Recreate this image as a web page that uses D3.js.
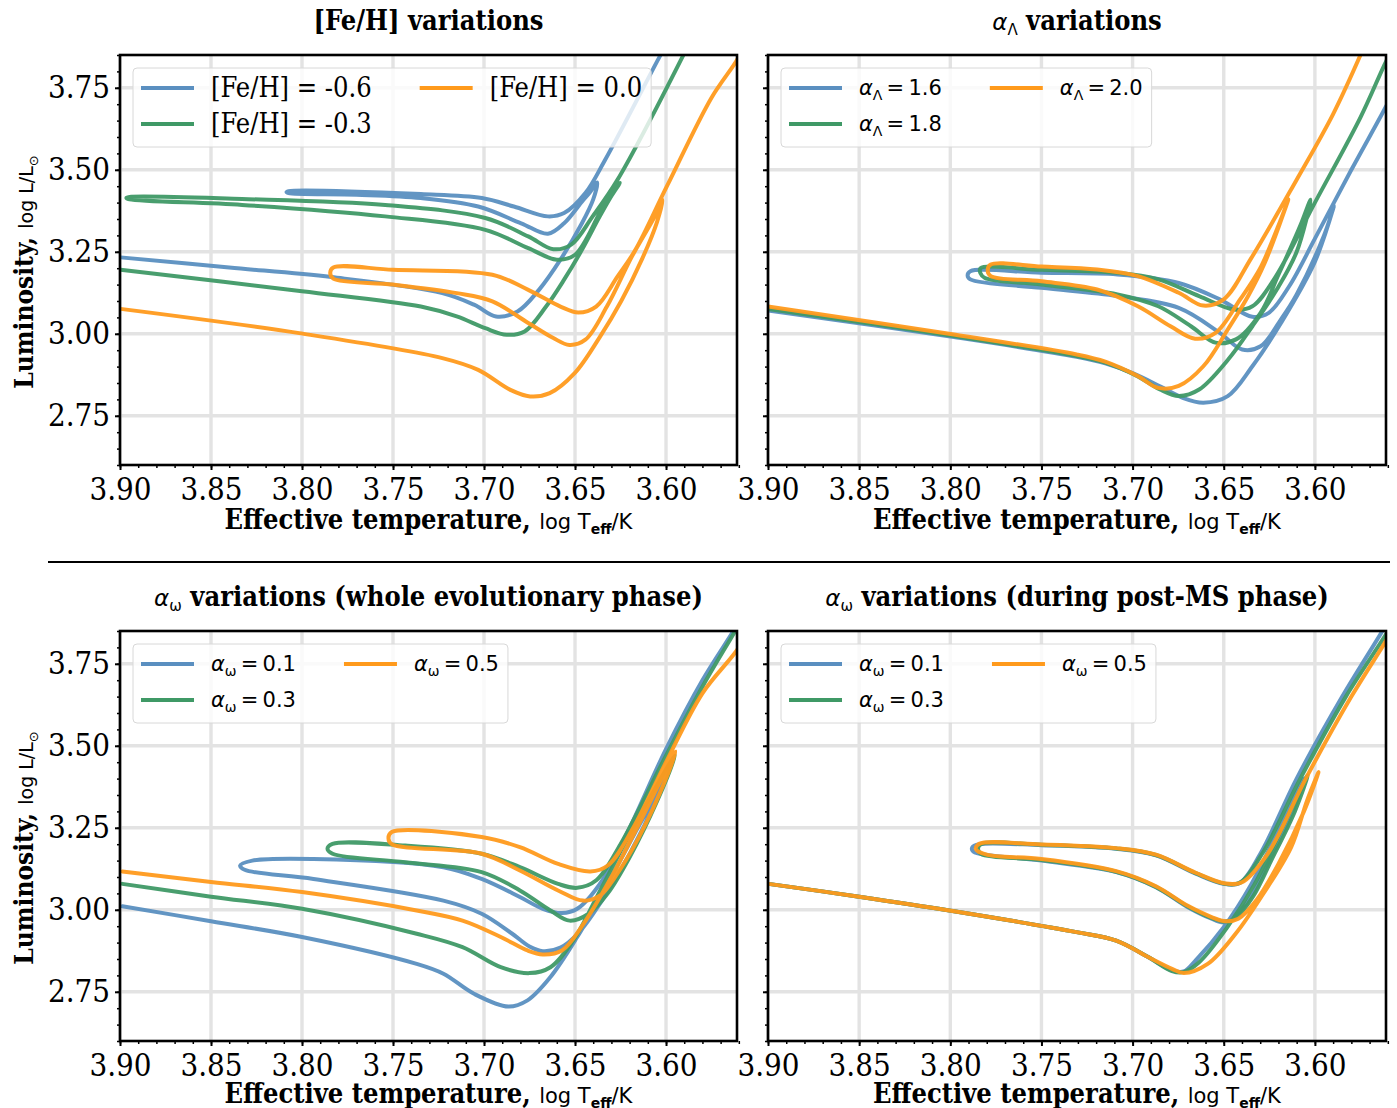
<!DOCTYPE html>
<html><head><meta charset="utf-8">
<script src="https://cdn.jsdelivr.net/npm/d3@7"></script>
<style>
body{margin:0;background:#fff;}
svg{display:block;}
</style></head><body>
<svg id="chart" width="1397" height="1108"></svg>
<script>
// ---------------- data (log Teff, log L) ----------------
const xTicks = [3.90, 3.85, 3.80, 3.75, 3.70, 3.65, 3.60];
const yTicks = [2.75, 3.00, 3.25, 3.50, 3.75];
const xDomain = [3.90, 3.561];
const yDomain = [2.60, 3.85];

const fehLabels = ["[Fe/H] = -0.6", "[Fe/H] = -0.3", "[Fe/H] = 0.0"];
const aLambdaValues = ["1.6", "1.8", "2.0"];
const aOmegaValues = ["0.1", "0.3", "0.5"];

const fehM06 = [[3.8997,3.233],[3.84,3.202],[3.7838,3.173],[3.7229,3.124],[3.7052,3.088],[3.6934,3.053],[3.6816,3.068],[3.6698,3.134],[3.658,3.226],[3.6462,3.337],[3.640,3.41],[3.6378,3.461],
 [3.642,3.43],[3.6462,3.403],[3.656,3.337],[3.6649,3.305],
 [3.6796,3.337],[3.7032,3.388],[3.7347,3.414],[3.770,3.424],[3.8074,3.429],[3.8085,3.432],[3.8074,3.435],
 [3.7347,3.426],[3.7012,3.414],[3.6836,3.388],[3.6649,3.358],[3.656,3.368],[3.6443,3.429],[3.6335,3.53],[3.6035,3.845],[3.600,3.88]];
const fehM03 = [[3.8997,3.195],[3.80,3.13],[3.7347,3.083],[3.715,3.053],[3.6993,3.017],[3.6875,2.997],[3.6777,3.007],[3.6659,3.083],[3.656,3.165],[3.6462,3.256],[3.6364,3.358],[3.630,3.42],[3.6254,3.46],
 [3.630,3.43],[3.6364,3.368],[3.650,3.241],[3.660,3.226],
 [3.6757,3.261],[3.6993,3.317],[3.7543,3.358],[3.8329,3.393],[3.8948,3.410],[3.8965,3.414],[3.8948,3.417],
 [3.8329,3.411],[3.7543,3.393],[3.6993,3.353],[3.6757,3.297],[3.6619,3.258],[3.6521,3.272],[3.6403,3.358],[3.6266,3.47],[3.5909,3.845],[3.587,3.89]];
const feh00 = [[3.8997,3.076],[3.8015,3.002],[3.7229,2.926],[3.7032,2.89],[3.6855,2.829],[3.6747,2.809],[3.6639,2.819],[3.6502,2.88],[3.6364,2.99],[3.6246,3.10],[3.613,3.23],[3.605,3.34],[3.6019,3.408],
 [3.606,3.36],[3.6187,3.236],[3.6325,3.083],[3.6443,2.982],[3.6531,2.966],
 [3.6619,2.987],[3.6757,3.033],[3.6954,3.099],[3.715,3.124],[3.750,3.15],[3.7828,3.168],[3.7845,3.185],[3.7828,3.202],
 [3.750,3.195],[3.6954,3.180],[3.6757,3.134],[3.658,3.083],[3.6482,3.065],[3.6384,3.083],[3.6266,3.175],[3.6168,3.256],[3.5995,3.45],[3.575,3.72],[3.561,3.835],[3.558,3.87]];

const aL16 = [[3.90,3.071],[3.798,2.99],[3.7307,2.93],[3.715,2.91],[3.700,2.88],[3.685,2.84],[3.6725,2.805],[3.6612,2.79],[3.6478,2.81],[3.6343,2.901],[3.6186,3.033],[3.600,3.22],[3.5895,3.39],
 [3.595,3.30],[3.610,3.12],[3.6186,3.044],[3.6298,2.962],[3.6399,2.952],
 [3.6522,3.003],[3.6747,3.079],[3.7083,3.115],[3.750,3.14],[3.789,3.166],[3.7905,3.178],[3.789,3.191],
 [3.750,3.186],[3.7083,3.181],[3.6747,3.155],[3.6522,3.105],[3.6343,3.052],[3.6253,3.064],[3.6141,3.145],[3.600,3.29],[3.580,3.50],[3.561,3.693],[3.555,3.76]];
const aL18 = [[3.90,3.076],[3.798,2.993],[3.7307,2.932],[3.715,2.912],[3.6971,2.87],[3.685,2.83],[3.6747,2.81],[3.6635,2.83],[3.6478,2.92],[3.6343,3.023],[3.6209,3.135],[3.610,3.25],[3.6024,3.409],
 [3.608,3.33],[3.620,3.18],[3.6298,3.064],[3.6433,2.983],[3.6545,2.973],
 [3.668,3.023],[3.6859,3.084],[3.7083,3.12],[3.750,3.15],[3.781,3.17],[3.7835,3.185],[3.7834,3.20],
 [3.750,3.195],[3.7083,3.186],[3.6859,3.166],[3.6635,3.115],[3.6444,3.074],[3.6343,3.084],[3.622,3.17],[3.600,3.40],[3.575,3.66],[3.561,3.83],[3.557,3.87]];
const aL20 = [[3.90,3.083],[3.798,2.998],[3.7307,2.937],[3.715,2.915],[3.6971,2.871],[3.6859,2.835],[3.6747,2.841],[3.6612,2.901],[3.6478,3.013],[3.6366,3.115],[3.6276,3.215],[3.6145,3.41],
 [3.620,3.33],[3.630,3.20],[3.641,3.105],[3.6545,3.003],[3.6657,2.985],
 [3.6792,3.023],[3.6971,3.084],[3.7195,3.135],[3.750,3.16],[3.7778,3.176],[3.7795,3.193],[3.7778,3.211],
 [3.750,3.205],[3.7195,3.196],[3.6971,3.176],[3.6747,3.125],[3.6612,3.086],[3.650,3.105],[3.635,3.23],[3.610,3.47],[3.590,3.67],[3.575,3.85],[3.572,3.89]];

const aw01W = [[3.8987,3.011],[3.85,2.965],[3.80,2.917],[3.737,2.835],[3.7223,2.805],[3.7055,2.744],[3.6866,2.705],[3.6761,2.724],[3.6635,2.795],[3.6488,2.917],[3.6341,3.059],[3.6173,3.232],[3.6043,3.363],[3.598,3.44],
 [3.605,3.34],[3.620,3.17],[3.635,3.03],[3.648,2.93],[3.658,2.885],[3.6677,2.874],
 [3.675,2.888],[3.6845,2.927],[3.7013,2.988],[3.7223,3.028],[3.7937,3.094],[3.8315,3.122],[3.834,3.135],[3.8273,3.15],
 [3.7937,3.155],[3.7223,3.13],[3.7013,3.094],[3.6803,3.039],[3.6677,3.003],[3.6572,2.990],[3.6488,3.003],[3.635,3.09],[3.620,3.25],[3.600,3.49],[3.580,3.70],[3.563,3.85],[3.560,3.88]];
const aw03W = [[3.8987,3.079],[3.85,3.04],[3.80,3.003],[3.737,2.927],[3.7118,2.886],[3.6908,2.825],[3.675,2.807],[3.6635,2.825],[3.6509,2.907],[3.637,3.05],[3.620,3.23],[3.595,3.47],
 [3.605,3.33],[3.620,3.16],[3.632,3.05],[3.6425,2.988],[3.653,2.967],
 [3.6635,2.998],[3.6803,3.059],[3.7013,3.115],[3.7433,3.145],[3.7832,3.171],[3.786,3.186],[3.7832,3.201],
 [3.7433,3.196],[3.7013,3.171],[3.6803,3.13],[3.6593,3.079],[3.6488,3.067],[3.6383,3.09],[3.625,3.20],[3.600,3.47],[3.580,3.68],[3.562,3.85],[3.559,3.88]];
const aw05W = [[3.8987,3.117],[3.85,3.085],[3.80,3.054],[3.737,2.998],[3.7118,2.967],[3.6908,2.917],[3.6761,2.876],[3.6677,2.864],[3.6572,2.876],[3.645,2.96],[3.630,3.10],[3.615,3.26],[3.5947,3.482],
 [3.600,3.40],[3.615,3.22],[3.628,3.10],[3.6362,3.044],[3.6456,3.028],
 [3.6593,3.059],[3.6803,3.12],[3.7013,3.171],[3.7507,3.200],[3.7525,3.218],[3.7507,3.237],
 [3.7013,3.222],[3.6803,3.191],[3.6593,3.14],[3.6415,3.117],[3.632,3.135],[3.618,3.25],[3.600,3.45],[3.580,3.66],[3.560,3.80],[3.556,3.85]];

const aw01P = [[3.8997,3.079],[3.85,3.04],[3.8005,2.998],[3.7308,2.932],[3.709,2.906],[3.6915,2.856],[3.6784,2.815],[3.672,2.812],[3.6654,2.846],[3.650,2.947],[3.6348,3.079],[3.6174,3.272],[3.606,3.40],
 [3.612,3.30],[3.625,3.15],[3.635,3.04],[3.645,2.975],[3.6501,2.962],
 [3.6567,2.973],[3.6697,3.008],[3.6872,3.069],[3.709,3.115],[3.750,3.15],[3.7874,3.178],[3.7880,3.190],[3.784,3.200],
 [3.750,3.197],[3.709,3.186],[3.6872,3.166],[3.6654,3.11],[3.6501,3.079],[3.6414,3.081],[3.630,3.17],[3.610,3.40],[3.585,3.65],[3.563,3.85],[3.560,3.88]];
const aw03P = [[3.8997,3.079],[3.85,3.04],[3.8005,2.998],[3.7308,2.932],[3.709,2.906],[3.6915,2.856],[3.6784,2.813],[3.672,2.810],[3.6635,2.840],[3.6480,2.947],[3.6330,3.079],[3.6160,3.272],[3.604,3.41],
 [3.611,3.30],[3.624,3.15],[3.634,3.04],[3.644,2.973],[3.6495,2.964],
 [3.6567,2.975],[3.6697,3.010],[3.6872,3.070],[3.709,3.116],[3.750,3.152],[3.7830,3.170],[3.7848,3.186],[3.783,3.201],
 [3.750,3.198],[3.709,3.187],[3.6872,3.167],[3.6654,3.112],[3.6501,3.080],[3.6414,3.082],[3.629,3.17],[3.608,3.40],[3.583,3.65],[3.561,3.84],[3.558,3.87]];
const aw05P = [[3.8997,3.079],[3.85,3.04],[3.8005,2.998],[3.7308,2.932],[3.709,2.906],[3.6915,2.856],[3.6784,2.820],[3.6719,2.807],[3.6588,2.835],[3.6435,2.927],[3.6283,3.049],[3.613,3.191],[3.6043,3.333],[3.598,3.42],
 [3.606,3.30],[3.620,3.14],[3.632,3.03],[3.642,2.973],[3.6490,2.965],
 [3.6567,2.978],[3.6697,3.012],[3.6872,3.072],[3.709,3.118],[3.750,3.155],[3.7800,3.168],[3.7860,3.185],[3.7842,3.201],
 [3.750,3.199],[3.709,3.188],[3.6872,3.168],[3.6654,3.113],[3.6490,3.080],[3.6400,3.084],[3.626,3.17],[3.605,3.40],[3.580,3.65],[3.561,3.82],[3.557,3.86]];

// ---------------- styles / layout ----------------
const colors = ["#5a8fc0", "#3f9966", "#ff9a1c"];
const serif = '"DejaVu Serif Condensed","DejaVu Serif",serif';
const sans = '"DejaVu Sans",sans-serif';

const panels = [
  {x0:120, x1:737, y0:55, y1:465, tracks:[fehM06,fehM03,feh00], legend:"feh", title:{kind:"plain", text:"[Fe/H] variations"}, left:true, xlabY:529},
  {x0:768, x1:1386, y0:55, y1:465, tracks:[aL16,aL18,aL20], legend:"lambda", title:{kind:"greek", sym:"Λ", text:" variations"}, left:false, xlabY:529},
  {x0:120, x1:737, y0:631, y1:1041, tracks:[aw01W,aw03W,aw05W], legend:"omega", title:{kind:"greek", sym:"ω", text:" variations (whole evolutionary phase)"}, left:true, xlabY:1103},
  {x0:768, x1:1386, y0:631, y1:1041, tracks:[aw01P,aw03P,aw05P], legend:"omega", title:{kind:"greek", sym:"ω", text:" variations (during post-MS phase)"}, left:false, xlabY:1103}
];

const svg = d3.select("#chart");
const defs = svg.append("defs");

// separator
svg.append("line").attr("x1",48).attr("x2",1390).attr("y1",562).attr("y2",562)
  .attr("stroke","#000").attr("stroke-width",2);

function minorRange(a,b,step){ const out=[]; const n=Math.round((b-a)/step); for(let i=0;i<=n;i++) out.push(+(a+i*step).toFixed(4)); return out; }
const xMinor = minorRange(3.56, 3.90, 0.01);
const yMinor = minorRange(2.60, 3.85, 0.05);

panels.forEach((p,pi)=>{
  const x = d3.scaleLinear().domain(xDomain).range([p.x0,p.x1]);
  const y = d3.scaleLinear().domain(yDomain).range([p.y1,p.y0]);
  const g = svg.append("g");
  const clipId = "clip"+pi;
  defs.append("clipPath").attr("id",clipId).append("rect")
    .attr("x",p.x0).attr("y",p.y0).attr("width",p.x1-p.x0).attr("height",p.y1-p.y0);

  // grid
  const grid = g.append("g");
  grid.selectAll(".gx").data(xTicks).join("line")
    .attr("x1",d=>x(d)).attr("x2",d=>x(d)).attr("y1",p.y0).attr("y2",p.y1)
    .attr("stroke","#e3e3e3").attr("stroke-width",3.4);
  grid.selectAll(".gy").data(yTicks).join("line")
    .attr("y1",d=>y(d)).attr("y2",d=>y(d)).attr("x1",p.x0).attr("x2",p.x1)
    .attr("stroke","#e3e3e3").attr("stroke-width",3.4);

  // tracks
  const line = d3.line().x(d=>x(d[0])).y(d=>y(d[1])).curve(d3.curveCatmullRom.alpha(0.5));
  const tg = g.append("g").attr("clip-path",`url(#${clipId})`);
  p.tracks.forEach((t,i)=>{
    tg.append("path").datum(t).attr("d",line).attr("fill","none")
      .attr("stroke",colors[i]).attr("stroke-width",4).attr("stroke-opacity",0.95)
      .attr("stroke-linejoin","round").attr("stroke-linecap","round");
  });

  // axes
  const fmt = d3.format(".2f");
  const ax = g.append("g").attr("transform",`translate(0,${p.y1})`)
    .call(d3.axisBottom(x).tickValues(xTicks).tickFormat(fmt).tickSize(5).tickPadding(8));
  const axm = g.append("g").attr("transform",`translate(0,${p.y1})`)
    .call(d3.axisBottom(x).tickValues(xMinor).tickFormat("").tickSize(3));
  const ay = g.append("g").attr("transform",`translate(${p.x0},0)`)
    .call(d3.axisLeft(y).tickValues(yTicks).tickFormat(p.left ? fmt : "").tickSize(5).tickPadding(5));
  const aym = g.append("g").attr("transform",`translate(${p.x0},0)`)
    .call(d3.axisLeft(y).tickValues(yMinor).tickFormat("").tickSize(3));
  [ax,axm,ay,aym].forEach(a=>{ a.select(".domain").remove(); a.selectAll("line").attr("stroke","#000"); });
  [ax,ay].forEach(a=>{ a.selectAll("line").attr("stroke-width",2);
    a.selectAll("text").attr("font-family",serif).attr("font-size",31).attr("fill","#000"); });
  [axm,aym].forEach(a=>a.selectAll("line").attr("stroke-width",1.5));

  // spines
  g.append("rect").attr("x",p.x0).attr("y",p.y0).attr("width",p.x1-p.x0).attr("height",p.y1-p.y0)
    .attr("fill","none").attr("stroke","#000").attr("stroke-width",2.6);

  const cx = (p.x0+p.x1)/2;
  // title
  const tt = g.append("text").attr("x",cx).attr("y",p.y0-25).attr("text-anchor","middle")
    .attr("font-family",serif).attr("font-weight","bold").attr("font-size",27);
  if(p.title.kind==="plain"){ tt.text(p.title.text); }
  else {
    tt.append("tspan").attr("font-family",sans).attr("font-style","italic").attr("font-weight","normal").attr("font-size",23).text("α");
    tt.append("tspan").attr("font-family",sans).attr("font-weight","normal").attr("font-size",15).attr("dy",5).text(p.title.sym);
    tt.append("tspan").attr("dy",-5).text(p.title.text);
  }

  // x label
  const xl = g.append("text").attr("x",cx).attr("y",p.xlabY).attr("text-anchor","middle")
    .attr("font-family",serif).attr("font-weight","bold").attr("font-size",27);
  xl.append("tspan").text("Effective temperature, ");
  xl.append("tspan").attr("font-family",sans).attr("font-weight","normal").attr("font-size",21).text("log T");
  xl.append("tspan").attr("font-family",sans).attr("font-weight","bold").attr("font-size",14).attr("dy",5).text("eff");
  xl.append("tspan").attr("font-family",sans).attr("font-weight","normal").attr("font-size",21).attr("dy",-5).text("/K");

  // y label (left panels only)
  if(p.left){
    const cy=(p.y0+p.y1)/2;
    const yl = g.append("text").attr("transform",`translate(33,${cy+12}) rotate(-90)`).attr("text-anchor","middle")
      .attr("font-family",serif).attr("font-weight","bold").attr("font-size",26);
    yl.append("tspan").text("Luminosity, ");
    yl.append("tspan").attr("font-family",sans).attr("font-weight","normal").attr("font-size",19).text("log L/L");
    yl.append("tspan").attr("font-family",sans).attr("font-weight","normal").attr("font-size",13).attr("dy",5).text("⊙");
  }

  // legend
  const lg = g.append("g");
  const bx = p.x0+13, by = p.y0+13;
  const box = lg.append("rect").attr("x",bx).attr("y",by).attr("height",79).attr("rx",4)
    .attr("fill","#fff").attr("fill-opacity",0.8).attr("stroke","#d8d8d8").attr("stroke-width",1);
  const rowY = [by+20, by+56, by+20];
  function addLabel(i, tx){
    const t = lg.append("text").attr("x",tx).attr("y",rowY[i]).attr("dy","0.35em");
    if(p.legend==="feh"){
      t.attr("font-family",serif).attr("font-size",27).text(fehLabels[i]);
    } else {
      const sym = p.legend==="lambda" ? "Λ" : "ω";
      const vals = p.legend==="lambda" ? aLambdaValues : aOmegaValues;
      t.attr("font-family",sans).attr("font-size",21);
      t.append("tspan").attr("font-style","italic").text("α");
      t.append("tspan").attr("font-size",14).attr("dy",5).text(sym);
      t.append("tspan").attr("dy",-5).text("\u2009=\u2009"+vals[i]);
    }
    return t;
  }
  const t0 = addLabel(0, bx+78), t1 = addLabel(1, bx+78);
  const w = Math.max(t0.node().getComputedTextLength(), t1.node().getComputedTextLength());
  const c2 = bx+78+w+48;
  const t2 = addLabel(2, c2+70);
  const w2 = t2.node().getComputedTextLength();
  box.attr("width", c2+70+w2+9-bx);
  [[bx+8,rowY[0],0],[bx+8,rowY[1],1],[c2,rowY[2],2]].forEach(([hx,hy,i])=>{
    lg.append("line").attr("x1",hx).attr("x2",hx+53).attr("y1",hy).attr("y2",hy)
      .attr("stroke",colors[i]).attr("stroke-width",4);
  });
});
</script>
</body></html>
